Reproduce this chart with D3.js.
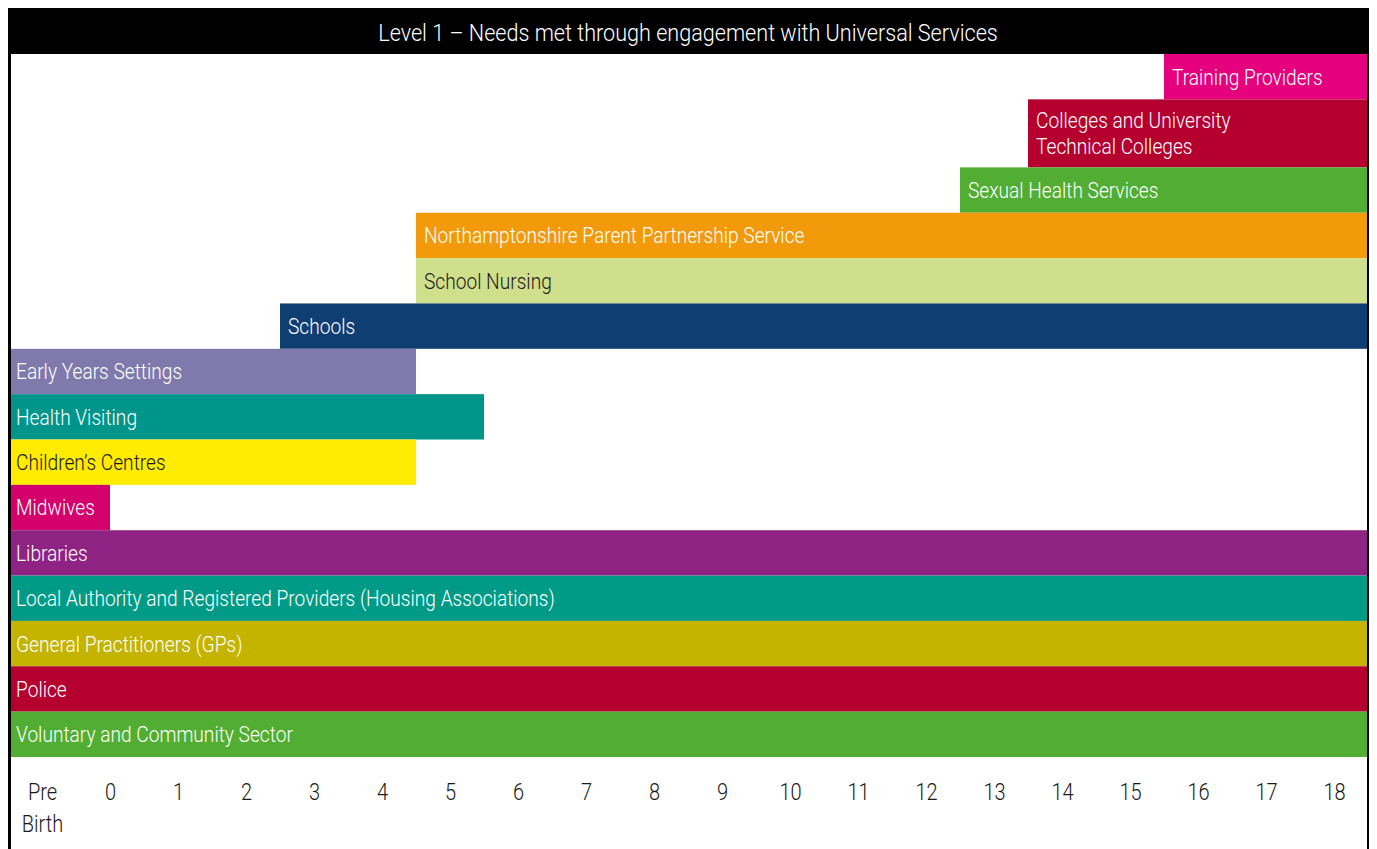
<!DOCTYPE html>
<html>
<head>
<meta charset="utf-8">
<script src="https://cdn.jsdelivr.net/npm/d3@7"></script>
<style>
  body { margin: 0; background: #fff; }
  svg text { font-family: Roboto, "DejaVu Sans Condensed", sans-serif; font-weight: 300; }
</style>
</head>
<body>
<script>
// chart data - one row per service, top to bottom
var title = 'Level 1 \u2013 Needs met through engagement with Universal Services';

var services = [
  'Training Providers',
  'Colleges and University\nTechnical Colleges',
  'Sexual Health Services',
  'Northamptonshire Parent Partnership Service',
  'School Nursing',
  'Schools',
  'Early Years Settings',
  'Health Visiting',
  'Children\u2019s Centres',
  'Midwives',
  'Libraries',
  'Local Authority and Registered Providers (Housing Associations)',
  'General Practitioners (GPs)',
  'Police',
  'Voluntary and Community Sector'
];
// age where each service starts / stops (-1 = pre birth, half values = band edges)
var startAge = [15.5, 13.5, 12.5, 4.5, 4.5, 2.5, -1.5, -1.5, -1.5, -1.5, -1.5, -1.5, -1.5, -1.5, -1.5];
var endAge   = [18.5, 18.5, 18.5, 18.5, 18.5, 18.5, 4.5, 5.5, 4.5, 0, 18.5, 18.5, 18.5, 18.5, 18.5];

var barColours = ['#e5007e', '#b5002f', '#52ae32', '#f39a0b', '#d0df8b', '#0f3e72', '#7f7aab',
                  '#00958a', '#ffec00', '#d4006c', '#8e2383', '#009b87', '#c4b400', '#b5002f', '#52ae32'];
var textColours = ['#fff', '#fff', '#fff', '#fff', '#1a1a1a', '#fff', '#fff',
                   '#fff', '#1a1a1a', '#fff', '#fff', '#fff', '#fff', '#fff', '#fff'];

var tickAges = d3.range(-1, 19);
var tickLabels = ['Pre\nBirth', '0', '1', '2', '3', '4', '5', '6', '7', '8', '9', '10',
                  '11', '12', '13', '14', '15', '16', '17', '18'];

var width = 1377;
var height = 849;
var left = 8, right = 1368;
var titleTop = 8, titleBottom = 54;
var rowsBottom = 757;
var squeeze = 0.87; // condensed look for labels
var titleSqueeze = 0.9;

var svg = d3.select('body')
  .append('svg')
  .attr('width', width)
  .attr('height', height);

var x = d3.scaleLinear().domain([-1.5, 18.5]).range([left, right]);

// rows: two-line labels get a taller row
var units = services.map(function(s) { return 1 + 0.5 * (s.split('\n').length - 1); });
var cum = [0];
units.forEach(function(u, i) { cum.push(cum[i] + u); });
var y = d3.scaleLinear().domain([0, cum[cum.length - 1]]).range([titleBottom, rowsBottom]);

var rows = svg.selectAll('g.row')
  .data(services)
  .enter()
  .append('g')
  .attr('class', 'row');

rows.append('rect')
  .attr('x', function(d, i) { return x(startAge[i]); })
  .attr('y', function(d, i) { return y(cum[i]); })
  .attr('width', function(d, i) { return x(endAge[i]) - x(startAge[i]); })
  .attr('height', function(d, i) { return y(cum[i + 1]) - y(cum[i]); })
  .attr('fill', function(d, i) { return barColours[i]; });

rows.each(function(d, i) {
  var lines = d.split('\n');
  var mid = (y(cum[i]) + y(cum[i + 1])) / 2;
  var lh = 26;
  var tx = x(startAge[i]) + 8;
  var t = d3.select(this).append('g')
    .attr('transform', 'translate(' + tx + ',0) scale(' + squeeze + ',1)')
    .append('text')
    .attr('fill', textColours[i])
    .attr('font-size', 22);
  lines.forEach(function(line, j) {
    t.append('tspan')
      .attr('x', 0)
      .attr('y', mid + (j - (lines.length - 1) / 2) * lh)
      .attr('dy', '0.36em')
      .text(line);
  });
});

// title bar
svg.append('rect')
  .attr('x', left)
  .attr('y', titleTop)
  .attr('width', right - left + 1)
  .attr('height', titleBottom - titleTop)
  .attr('fill', '#000');

svg.append('g')
  .attr('transform', 'translate(' + (left + right) / 2 + ',0) scale(' + titleSqueeze + ',1)')
  .append('text')
  .attr('x', 0)
  .attr('y', (titleTop + titleBottom) / 2 + 2)
  .attr('dy', '0.35em')
  .attr('text-anchor', 'middle')
  .attr('fill', '#fff')
  .attr('font-size', 24)
  .text(title);

// frame sides
svg.append('line')
  .attr('x1', left + 1.5).attr('x2', left + 1.5)
  .attr('y1', titleBottom).attr('y2', height)
  .attr('stroke', '#000').attr('stroke-width', 3);
svg.append('line')
  .attr('x1', right).attr('x2', right)
  .attr('y1', titleBottom).attr('y2', height)
  .attr('stroke', '#000').attr('stroke-width', 2);

// age axis
var axis = d3.axisBottom(x)
  .tickValues(tickAges)
  .tickSize(0)
  .tickPadding(0)
  .tickFormat(function(d, i) { return tickLabels[i]; });

var ax = svg.append('g')
  .attr('transform', 'translate(0,' + 792 + ')')
  .call(axis);
ax.select('.domain').remove();
ax.selectAll('text')
  .attr('font-size', 23)
  .attr('font-family', 'Roboto, sans-serif')
  .attr('fill', '#1a1a1a')
  .attr('transform', 'scale(' + squeeze + ',1)')
  .each(function(d, i) {
    var t = d3.select(this);
    var lines = tickLabels[i].split('\n');
    t.text(null).attr('y', 0).attr('dy', null);
    lines.forEach(function(line, j) {
      t.append('tspan')
        .attr('x', 0)
        .attr('y', j * 32)
        .attr('dy', '0.36em')
        .text(line);
    });
  });
</script>
</body>
</html>
